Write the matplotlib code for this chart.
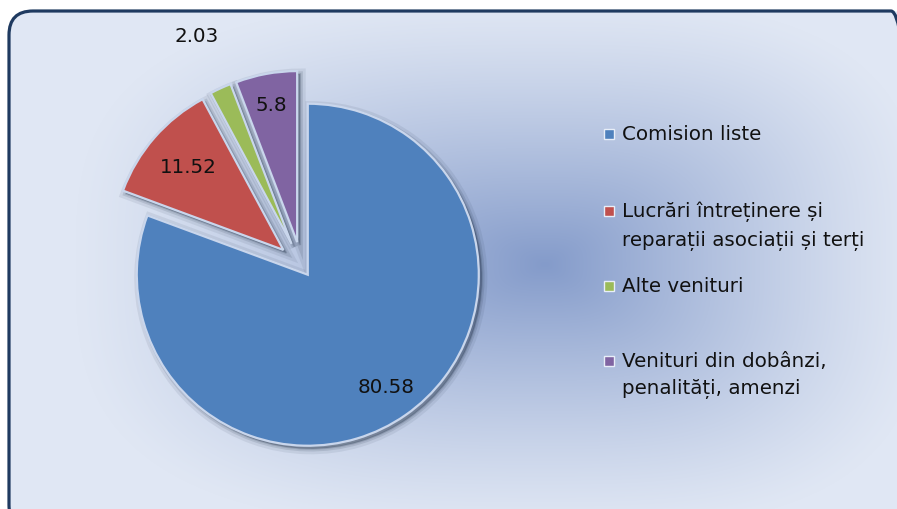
import numpy as np
import matplotlib
matplotlib.use("Agg")
import matplotlib.pyplot as plt
from matplotlib.patches import FancyBboxPatch, Rectangle

categories = ["Comision liste",
              "Lucrări întreținere și\nreparații asociații și terți",
              "Alte venituri",
              "Venituri din dobânzi,\npenalități, amenzi"]
values = [80.58, 11.52, 2.03, 5.8]
value_labels = ["80.58", "11.52", "2.03", "5.8"]
colors = ["#4F81BD", "#C0504D", "#9BBB59", "#8064A2"]

W, H = 897, 510
explode = [11, 24, 24, 24]
label_ratio = [0.80, 0.74, 1.34, 0.82]
legend_y = [135, 212, 287, 362]   # image rows of the first legend line


def Y(y_img):
    return H - y_img


fig = plt.figure(figsize=(W / 100, H / 100), dpi=100)
fig.patch.set_facecolor("white")
ax = fig.add_axes([0, 0, 1, 1])

# rounded frame with a centre gradient
frame = FancyBboxPatch((9, Y(530)), 906, 518,
                       boxstyle="round,pad=0,rounding_size=24",
                       facecolor="none", edgecolor="#1F3A60", linewidth=2.3, zorder=5)
xx, yy = np.meshgrid(np.arange(W), np.arange(H))
cx, cy = 545, 265
dx = np.where(xx < cx, (cx - xx) / 470.0, (xx - cx) / 380.0)
dy = np.abs(yy - cy) / 265.0
t = np.clip((dx ** 3 + dy ** 3) ** (1 / 3), 0, 1)
k = (1 - t) ** 1.2
light = np.array([224, 231, 244]) / 255.0
dark = np.array([132, 155, 202]) / 255.0
img = light[None, None, :] * (1 - k[..., None]) + dark[None, None, :] * k[..., None]
bg = ax.imshow(img, extent=(0, W, 0, H), origin="upper", zorder=0)
ax.add_patch(frame)
bg.set_clip_path(frame)

center = (301.5, Y(266.7))
radius = 171

# soft shadow under the slices
for lw, a in [(8, 0.08), (4, 0.12), (1.5, 0.16)]:
    sh, _ = ax.pie(values, explode=explode, center=(center[0] + 3, center[1] - 3),
                   radius=radius, startangle=90, counterclock=False,
                   colors=["#1A2A40"] * 4,
                   wedgeprops=dict(linewidth=lw, edgecolor="#1A2A40", alpha=a))
    for w in sh:
        w.set_zorder(1)

wedges, _ = ax.pie(values, explode=explode, center=center, radius=radius,
                   startangle=90, counterclock=False, colors=colors,
                   wedgeprops=dict(linewidth=1.6, edgecolor="#C9D6EC"))
for w in wedges:
    w.set_zorder(2)

for w, lab, r in zip(wedges, value_labels, label_ratio):
    mid = np.deg2rad((w.theta1 + w.theta2) / 2)
    x = w.center[0] + radius * r * np.cos(mid)
    y = w.center[1] + radius * r * np.sin(mid)
    ax.text(x, y, lab, ha="center", va="center", fontsize=14.3,
            color="#111111", zorder=3)

# legend
for c, lab, ly in zip(colors, categories, legend_y):
    ax.add_patch(Rectangle((604, Y(ly) - 5), 10, 10, facecolor=c,
                           edgecolor="#E8EEF8", linewidth=1, zorder=3))
    ax.text(622, Y(ly - 10), lab, ha="left", va="top", fontsize=14.3,
            color="#111111", linespacing=1.55, zorder=3)

ax.set_xlim(0, W)
ax.set_ylim(0, H)
ax.set_aspect("auto")
ax.axis("off")

fig.savefig("out.png", dpi=100)
